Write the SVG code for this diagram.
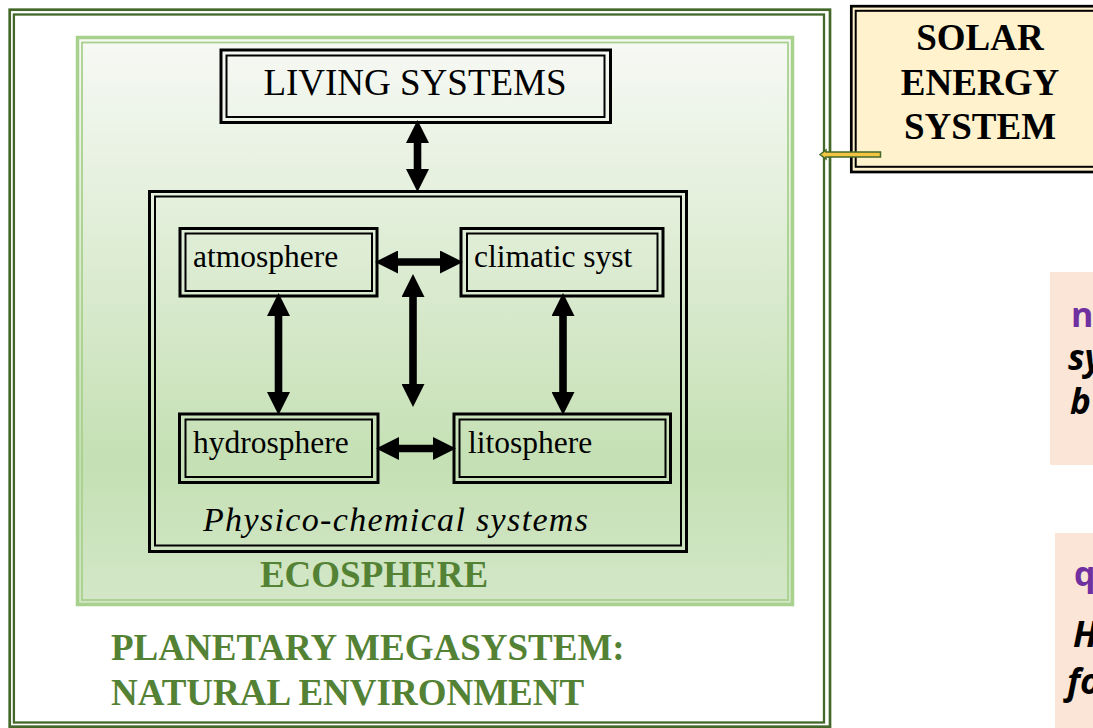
<svg xmlns="http://www.w3.org/2000/svg" width="1093" height="728" viewBox="0 0 1093 728">
<style>
.serif{font-family:"Liberation Serif","Times New Roman",serif;}
.box-o{fill:none;stroke:#000;stroke-width:3;}
.box-i{fill:none;stroke:#000;stroke-width:2;}
.lbl{font-family:"Liberation Serif","Times New Roman",serif;font-size:31.5px;fill:#000;}
.green{font-family:"Liberation Serif","Times New Roman",serif;font-weight:bold;font-size:37px;fill:#548235;}
.solar{font-family:"Liberation Serif","Times New Roman",serif;font-weight:bold;font-size:37px;fill:#000;text-anchor:middle;}
.arr{stroke:#000;stroke-width:7.6;fill:none;marker-start:url(#ah);marker-end:url(#ah);}
.side-h{font-family:"Open Sans","Noto Sans",sans-serif;font-weight:bold;font-size:34px;fill:#7030a0;}
.side-t{font-family:"Open Sans","Noto Sans",sans-serif;font-weight:bold;font-style:italic;font-size:35px;fill:#000;}
</style>
<defs>
<linearGradient id="eco" x1="0" y1="0" x2="0" y2="1">
<stop offset="0" stop-color="#f7f9f5"/>
<stop offset="0.75" stop-color="#c5e0b4"/>
<stop offset="1" stop-color="#d3e7c8"/>
</linearGradient>
<marker id="ah" viewBox="0 0 23 23" markerWidth="23" markerHeight="23" refX="3" refY="11.5" markerUnits="userSpaceOnUse" orient="auto-start-reverse">
<path d="M0,0 L23,11.5 L0,23 Z" fill="#000"/>
</marker>
</defs>
<rect width="1093" height="728" fill="#fff"/>

<g id="planetary-megasystem">
<rect x="9.7" y="9.7" width="820.3" height="717" fill="none" stroke="#43682a" stroke-width="2.7"/>
<rect x="13.9" y="14.5" width="810.1" height="708" fill="none" stroke="#43682a" stroke-width="2.3"/>
<text class="green" x="111" y="660">PLANETARY MEGASYSTEM:</text>
<text class="green" x="111" y="705">NATURAL ENVIRONMENT</text>
</g>

<g id="ecosphere">
<rect x="77.5" y="37.5" width="715" height="567" fill="url(#eco)" stroke="#a9d18e" stroke-width="3.5"/>
<rect x="82" y="42.5" width="706" height="557.5" fill="none" stroke="#a9d18e" stroke-width="1.8"/>
<text class="green" x="374" y="587" text-anchor="middle">ECOSPHERE</text>
</g>

<g id="living-systems">
<rect class="box-o" x="221" y="50" width="389.5" height="72.5"/>
<rect class="box-i" x="226.5" y="55.5" width="378" height="61.5"/>
<text class="serif" x="415" y="95" font-size="37" text-anchor="middle">LIVING SYSTEMS</text>
</g>

<g id="physico-chemical-systems">
<rect class="box-o" x="149.5" y="191.5" width="537" height="360"/>
<rect class="box-i" x="155" y="196.5" width="526" height="349"/>
<text class="serif" x="203" y="531" font-size="34" font-style="italic" textLength="385" lengthAdjust="spacing">Physico-chemical systems</text>
</g>

<g id="atmosphere">
<rect class="box-o" x="180" y="228.5" width="197" height="67.5"/>
<rect class="box-i" x="185.5" y="233.5" width="186.5" height="57.5"/>
<text class="lbl" x="193" y="267">atmosphere</text>
</g>

<g id="climatic-syst">
<rect class="box-o" x="461" y="228.5" width="202" height="67.5"/>
<rect class="box-i" x="467" y="233.5" width="190.5" height="57.5"/>
<text class="lbl" x="474" y="267">climatic syst</text>
</g>

<g id="hydrosphere">
<rect class="box-o" x="179.5" y="414" width="198.5" height="68.5"/>
<rect class="box-i" x="185.5" y="419.5" width="186.5" height="57.5"/>
<text class="lbl" x="193" y="453">hydrosphere</text>
</g>

<g id="litosphere">
<rect class="box-o" x="454" y="414" width="216.5" height="68.5"/>
<rect class="box-i" x="459.5" y="419.5" width="206" height="57.5"/>
<text class="lbl" x="468" y="453">litosphere</text>
</g>

<g id="solar-energy-system">
<rect x="851.3" y="6.2" width="260" height="165.8" fill="#fff2cc" stroke="#000" stroke-width="2.7"/>
<rect x="855.7" y="10.8" width="255" height="156" fill="none" stroke="#000" stroke-width="2"/>
<text class="solar" x="980" y="50">SOLAR</text>
<text class="solar" x="980" y="95">ENERGY</text>
<text class="solar" x="980" y="139">SYSTEM</text>
</g>

<g id="side-panels">
<rect x="1050" y="272" width="50" height="193" fill="#fbe5d6"/>
<text class="side-h" x="1071" y="327">n</text>
<text class="side-t" x="1068" y="370">sy</text>
<text class="side-t" x="1070" y="414">b</text>
<rect x="1055" y="533" width="45" height="195" fill="#fbe5d6"/>
<text class="side-h" x="1074" y="586">q</text>
<text class="side-t" x="1073" y="647">H</text>
<text class="side-t" x="1067" y="694">fo</text>
</g>

<g id="connectors">
<line class="arr" x1="417.5" y1="140" x2="417.5" y2="172"/>
<line class="arr" x1="395" y1="262" x2="443" y2="262"/>
<line class="arr" x1="278.5" y1="313" x2="278.5" y2="395"/>
<line class="arr" x1="413" y1="294" x2="413" y2="387"/>
<line class="arr" x1="563" y1="313" x2="563" y2="395"/>
<line class="arr" x1="396" y1="448.5" x2="436" y2="448.5"/>
<path d="M820,154.5 L826,150 L826,152 L880.5,152 L880.5,157 L826,157 L826,159 Z" fill="#f4c542" stroke="#43682a" stroke-width="1.5"/>
</g>
</svg>
